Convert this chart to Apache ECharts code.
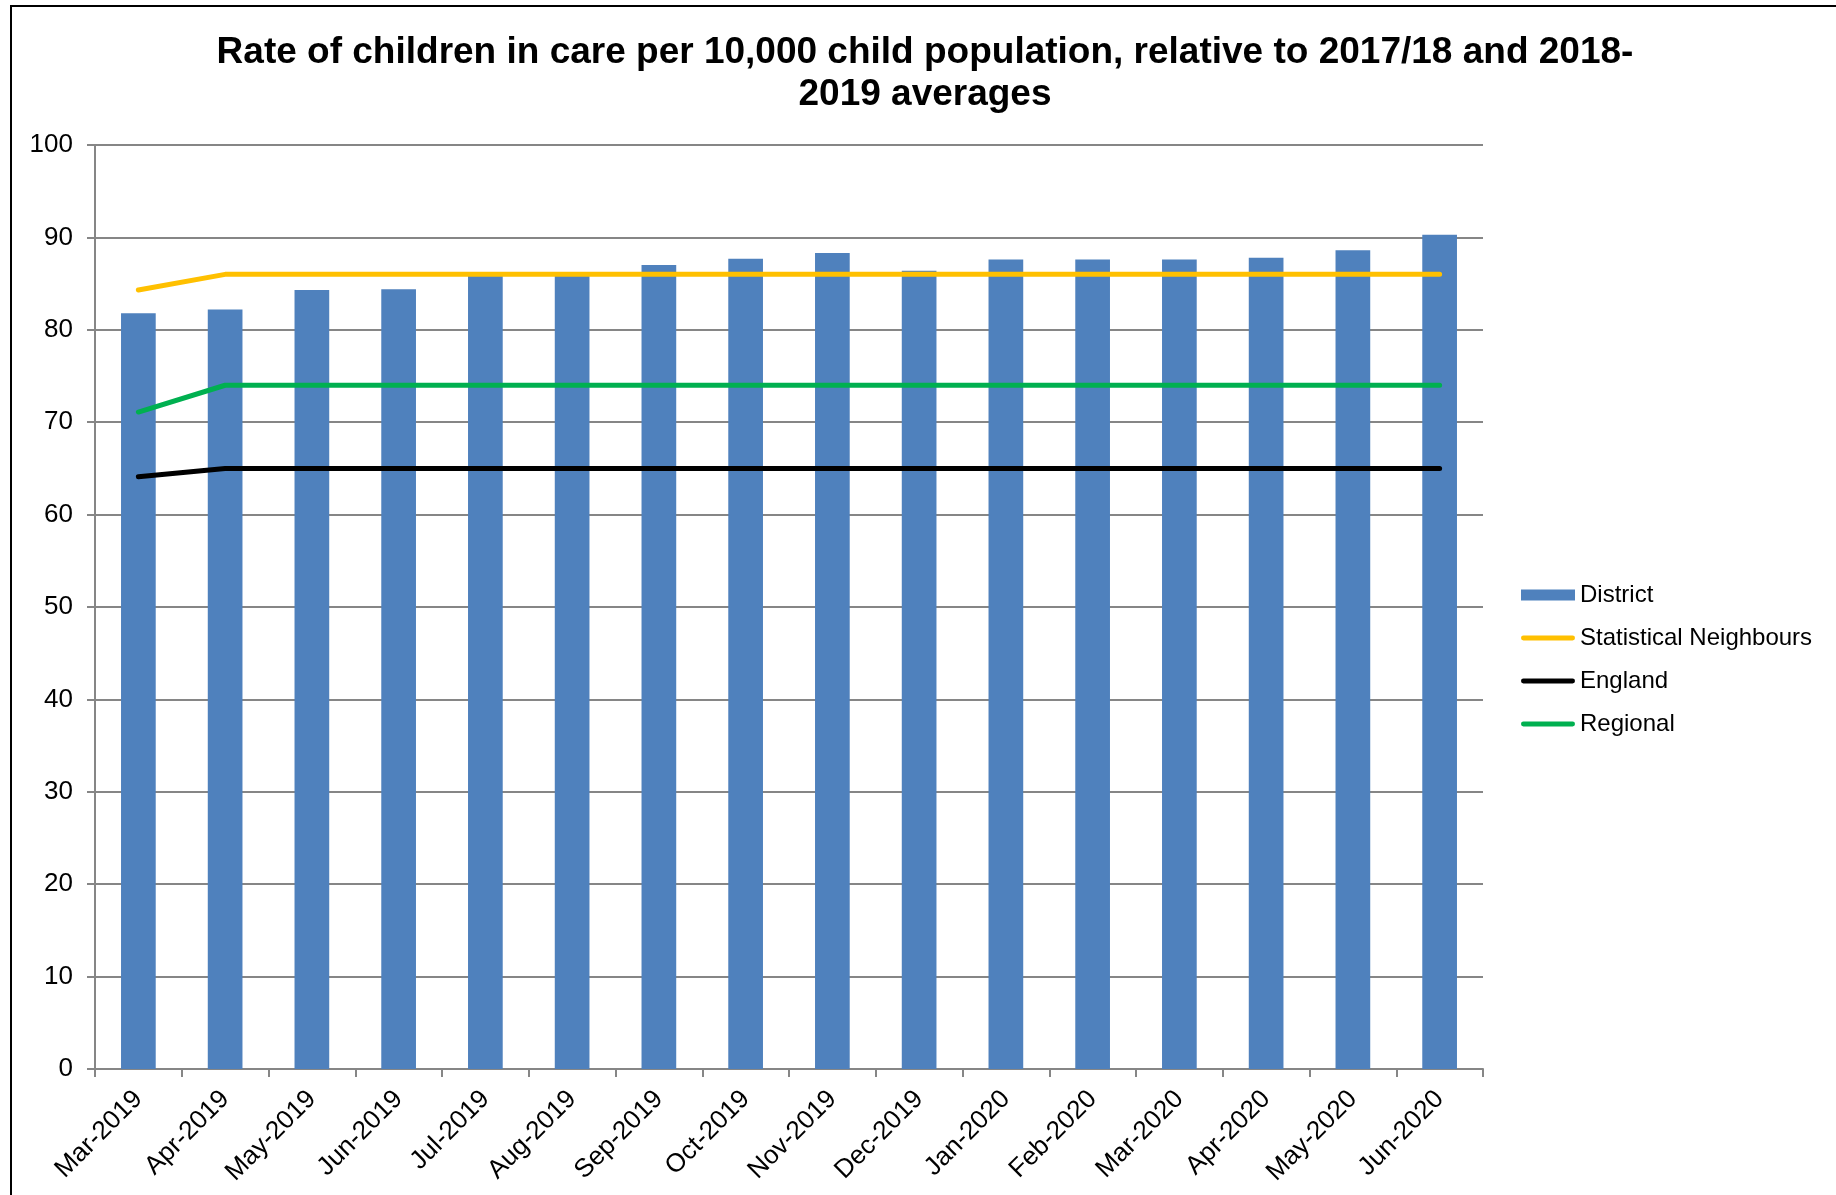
<!DOCTYPE html>
<html>
<head>
<meta charset="utf-8">
<script src="https://cdn.jsdelivr.net/npm/echarts@6/dist/echarts.min.js"></script>
<style>
  html, body { margin: 0; padding: 0; background: #ffffff; }
  #chart { width: 1836px; height: 1195px; }
</style>
</head>
<body>
<div id="chart"></div>
<script>
// Monthly categories
const months = ['Mar-2019', 'Apr-2019', 'May-2019', 'Jun-2019', 'Jul-2019', 'Aug-2019',
  'Sep-2019', 'Oct-2019', 'Nov-2019', 'Dec-2019', 'Jan-2020', 'Feb-2020',
  'Mar-2020', 'Apr-2020', 'May-2020', 'Jun-2020'];

// Rate per 10,000 child population
const district = [81.8, 82.2, 84.3, 84.4, 85.9, 85.9, 87.0, 87.7, 88.3, 86.4, 87.6, 87.6, 87.6, 87.8, 88.6, 90.3];
const statNeighbours = [84.3, 86, 86, 86, 86, 86, 86, 86, 86, 86, 86, 86, 86, 86, 86, 86];
const england = [64.1, 65, 65, 65, 65, 65, 65, 65, 65, 65, 65, 65, 65, 65, 65, 65];
const regional = [71.1, 74, 74, 74, 74, 74, 74, 74, 74, 74, 74, 74, 74, 74, 74, 74];

const FONT = '"Liberation Sans", Arial, sans-serif';
const GRID_GREY = '#868686';
// Rounded bar used as the legend marker for the line series
const LINE_ICON = 'path://M2.5,0 H53.5 A2.5,2.5 0 0 1 53.5,5 H2.5 A2.5,2.5 0 0 1 2.5,0 Z';

const chart = echarts.init(document.getElementById('chart'), null, { renderer: 'canvas' });

function lineSeries(name, data, color) {
  return {
    name: name,
    type: 'line',
    data: data,
    symbol: 'none',
    showSymbol: false,
    lineStyle: { color: color, width: 5, cap: 'round', join: 'round' },
    itemStyle: { color: color },
    z: 3
  };
}

chart.setOption({
  animation: false,
  backgroundColor: '#ffffff',
  textStyle: { fontFamily: FONT },
  graphic: [{
    type: 'rect',
    shape: { x: 11, y: 6, width: 1900, height: 1300 },
    style: { fill: 'none', stroke: '#000000', lineWidth: 2 },
    silent: true
  }],
  title: {
    text: 'Rate of children in care per 10,000 child population, relative to 2017/18 and 2018-\n2019 averages',
    left: 920,
    textAlign: 'center',
    top: 27,
    textStyle: {
      fontFamily: FONT,
      fontSize: 37,
      fontWeight: 'bold',
      color: '#000000',
      lineHeight: 42
    }
  },
  legend: {
    orient: 'vertical',
    left: 1516,
    top: 578,
    itemWidth: 54,
    itemHeight: 11,
    itemGap: 19,
    symbolKeepAspect: true,
    textStyle: { fontFamily: FONT, fontSize: 24, color: '#000000', lineHeight: 24 },
    data: [
      { name: 'District', icon: 'rect' },
      { name: 'Statistical Neighbours', icon: LINE_ICON },
      { name: 'England', icon: LINE_ICON },
      { name: 'Regional', icon: LINE_ICON }
    ]
  },
  grid: { left: 95, top: 145, width: 1388, height: 924, containLabel: false },
  xAxis: {
    type: 'category',
    data: months,
    boundaryGap: true,
    axisLine: { lineStyle: { color: GRID_GREY, width: 2 } },
    axisTick: { show: true, length: 8, alignWithLabel: false, lineStyle: { color: GRID_GREY, width: 2 } },
    axisLabel: { rotate: 45, margin: 26, fontSize: 26, color: '#000000', fontFamily: FONT, interval: 0 }
  },
  yAxis: {
    type: 'value',
    min: 0,
    max: 100,
    interval: 10,
    axisLine: { show: true, lineStyle: { color: GRID_GREY, width: 2 } },
    axisTick: { show: true, length: 8, lineStyle: { color: GRID_GREY, width: 2 } },
    axisLabel: { margin: 22, fontSize: 26, color: '#000000', fontFamily: FONT },
    splitLine: { show: true, lineStyle: { color: GRID_GREY, width: 2 } }
  },
  series: [
    {
      name: 'District',
      type: 'bar',
      data: district,
      barWidth: '40%',
      itemStyle: { color: '#4F81BD' },
      z: 2
    },
    lineSeries('Statistical Neighbours', statNeighbours, '#FFC000'),
    lineSeries('England', england, '#000000'),
    lineSeries('Regional', regional, '#00B050')
  ]
});
</script>
</body>
</html>
